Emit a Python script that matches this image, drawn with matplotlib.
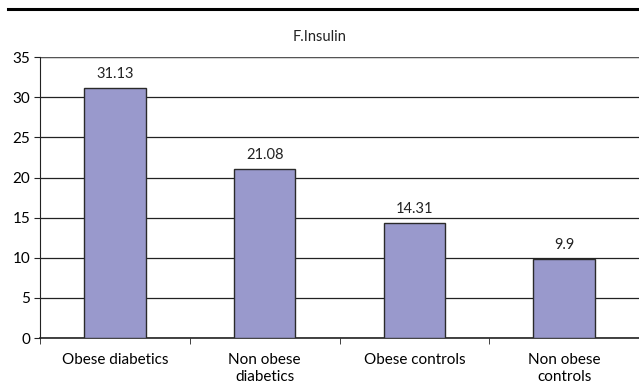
import matplotlib.pyplot as plt
import numpy as np

plt.rcParams['font.family'] = ['Lato', 'DejaVu Sans']

groups = ['Obese diabetics', 'Non obese\ndiabetics', 'Obese controls', 'Non obese\ncontrols']
insulin = [31.13, 21.08, 14.31, 9.9]
value_labels = ['31.13', '21.08', '14.31', '9.9']
yticks = [0, 5, 10, 15, 20, 25, 30, 35]

fig = plt.figure(figsize=(6.39, 3.89), dpi=100)
ax = fig.add_axes([0.0626, 0.131, 0.9374, 0.722])

x = np.arange(len(groups))
ax.bar(x, insulin, width=0.41, color='#9999cc', edgecolor='#2a2a2a', linewidth=1.0, zorder=3)

for xi, v, txt in zip(x, insulin, value_labels):
    ax.annotate(txt, (xi, v), xytext=(0, 5), textcoords='offset points',
                ha='center', va='bottom', fontsize=10.5, color='#222222')

ax.set_xlim(-0.5, 3.5)
ax.set_ylim(0, 35)
ax.set_yticks(yticks)
ax.set_yticklabels([str(t) for t in yticks], fontsize=11)
ax.yaxis.grid(True, color='#222222', linewidth=0.9, zorder=0)

# category labels sit between the boundary ticks
ax.set_xticks(x)
ax.set_xticklabels(groups, fontsize=11, linespacing=1.25)
ax.tick_params(axis='x', length=0, pad=11)
ax.set_xticks(np.arange(-0.5, 3.6, 1.0), minor=True)
ax.tick_params(axis='x', which='minor', length=4, direction='out', color='#222222')
ax.tick_params(axis='y', length=4, direction='out', color='#222222', pad=3)

for side in ['top', 'right']:
    ax.spines[side].set_visible(False)
ax.spines['left'].set_color('#222222')
ax.spines['bottom'].set_color('#222222')
ax.spines['bottom'].set_linewidth(1.2)
ax.axhline(35, color='#555555', linewidth=1.6, zorder=2)

fig.text(0.5, 1 - 37 / 389, 'F.Insulin', ha='center', va='center', fontsize=10.5, color='#222222')
fig.add_artist(plt.Line2D([8 / 639, 1.0], [1 - 9 / 389, 1 - 9 / 389], color='black', linewidth=2.2))

fig.savefig('out.png', dpi=100)
